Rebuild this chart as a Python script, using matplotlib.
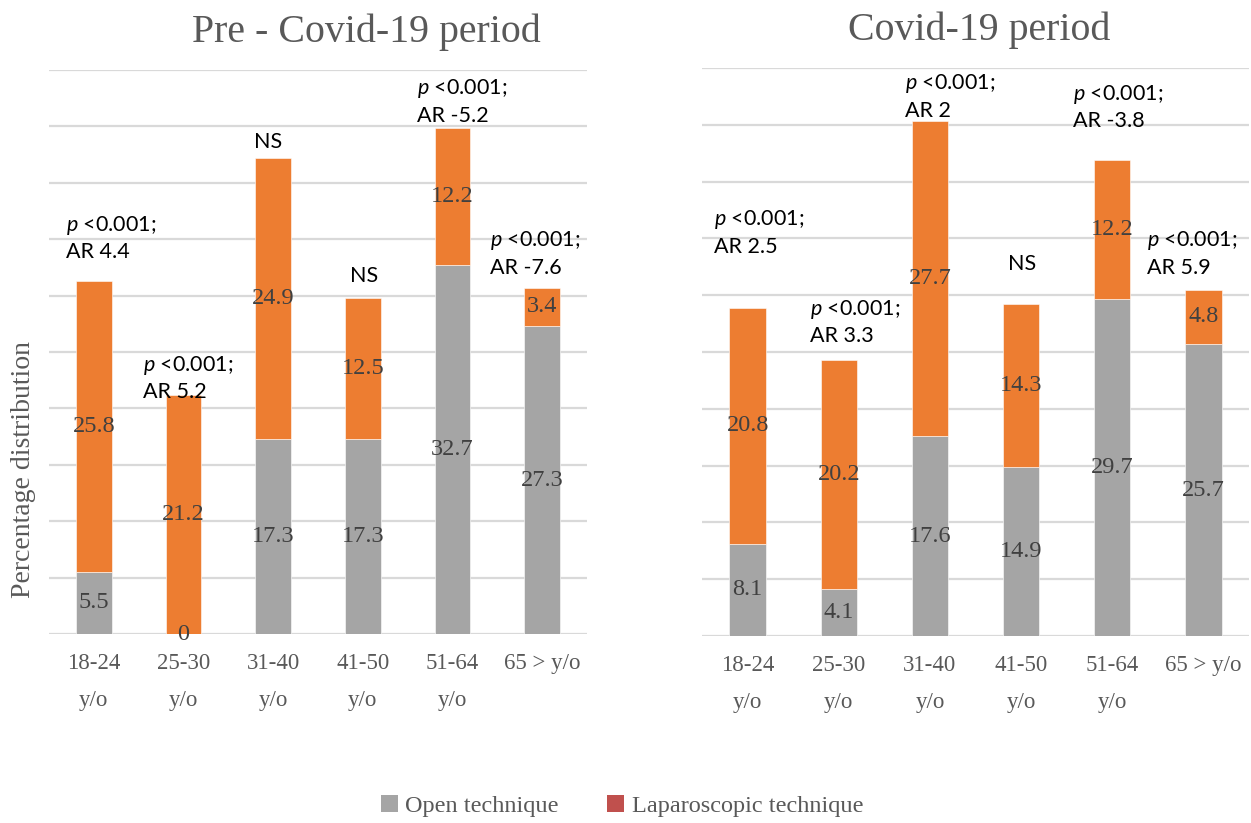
import matplotlib
matplotlib.use("Agg")
import matplotlib.pyplot as plt
from matplotlib.patches import Patch
import numpy as np

plt.rcParams['mathtext.fontset'] = 'custom'
plt.rcParams['mathtext.it'] = 'Lato:italic'
plt.rcParams['mathtext.rm'] = 'Lato'

categories = ["18-24\ny/o", "25-30\ny/o", "31-40\ny/o", "41-50\ny/o", "51-64\ny/o", "65 > y/o"]

pre_open = [5.5, 0, 17.3, 17.3, 32.7, 27.3]
pre_lap = [25.8, 21.2, 24.9, 12.5, 12.2, 3.4]
pre_notes = ["$p$ <0.001;\nAR 4.4", "$p$ <0.001;\nAR 5.2", "NS", "NS",
             "$p$ <0.001;\nAR -5.2", "$p$ <0.001;\nAR -7.6"]

cov_open = [8.1, 4.1, 17.6, 14.9, 29.7, 25.7]
cov_lap = [20.8, 20.2, 27.7, 14.3, 12.2, 4.8]
cov_notes = ["$p$ <0.001;\nAR 2.5", "$p$ <0.001;\nAR 3.3", "$p$ <0.001;\nAR 2", "NS",
             "$p$ <0.001;\nAR -3.8", "$p$ <0.001;\nAR 5.9"]

# layout: annotation offsets in pixels (dx from bar centre to text left / centre, dy above bar top)
pre_offsets = [(-28, 43), (-40, 17), (-5, 16), (1, 22), (-35, 26), (-52, 34)]
cov_offsets = [(-34, 75), (-29, 38), (-25, 25), (1, 40), (-39, 53), (-56, 36)]

GRAY = "#A5A5A5"
ORANGE = "#ED7D31"
TXT = "#595959"
LBL = "#404040"
SERIF = "Liberation Serif"
SANS = "Lato"

fig = plt.figure(figsize=(12.51, 8.23), dpi=100)
W, H = 1251, 823


def px_axes(x0, y0, x1, y1):
    return fig.add_axes([x0 / W, 1 - y1 / H, (x1 - x0) / W, (y1 - y0) / H])


def draw(ax, opn, lap, notes, offsets):
    x = np.arange(len(categories))
    ax.bar(x, opn, width=0.4, color=GRAY, edgecolor="white", linewidth=0.4, zorder=3)
    ax.bar(x, lap, width=0.4, bottom=opn, color=ORANGE, edgecolor="white", linewidth=0.4, zorder=3)
    ax.set_xlim(-0.5, len(categories) - 0.5)
    ax.set_ylim(0, 50)
    ax.set_yticks(np.arange(0, 51, 5))
    ax.yaxis.grid(True, color="#D9D9D9", linewidth=1.6, zorder=0)
    ax.set_yticklabels([])
    ax.tick_params(axis="y", length=0)
    ax.tick_params(axis="x", length=0, pad=14)
    ax.set_xticks(x)
    ax.set_xticklabels(categories, fontfamily=SERIF, fontsize=16.5, color=TXT, linespacing=1.95)
    for s in ax.spines.values():
        s.set_visible(False)
    for i in x:
        ax.text(i, opn[i] / 2, f"{opn[i]:g}", ha="center", va="center",
                fontfamily=SERIF, fontsize=17.5, color=LBL, zorder=5)
        ax.text(i, opn[i] + lap[i] / 2, f"{lap[i]:g}", ha="center", va="center",
                fontfamily=SERIF, fontsize=17.5, color=LBL, zorder=5)
        total = opn[i] + lap[i]
        dx, dy = offsets[i]
        ha = "center" if notes[i] == "NS" else "left"
        ax.annotate(notes[i], xy=(i, total), xytext=(dx * 0.72, dy * 0.72),
                    textcoords="offset points", ha=ha, va="center",
                    fontfamily=SANS, fontsize=15.5, color="black",
                    linespacing=1.35, zorder=6)


ax1 = px_axes(49, 70, 587, 634)
draw(ax1, pre_open, pre_lap, pre_notes, pre_offsets)
ax2 = px_axes(702, 68, 1249, 636)
draw(ax2, cov_open, cov_lap, cov_notes, cov_offsets)

fig.text(366 / W, 1 - 32 / H, "Pre - Covid-19 period", ha="center", va="center",
         fontfamily=SERIF, fontsize=28.7, color=TXT)
fig.text(979 / W, 1 - 30 / H, "Covid-19 period", ha="center", va="center",
         fontfamily=SERIF, fontsize=28.7, color=TXT)
fig.text(24 / W, 1 - 469 / H, "Percentage distribution", rotation=90, ha="center", va="center",
         fontfamily=SERIF, fontsize=20, color=TXT)

handles = [Patch(facecolor=GRAY, label="Open technique"),
           Patch(facecolor="#C0504D", label="Laparoscopic technique")]
fig.legend(handles=handles, loc="center", bbox_to_anchor=(622 / W, 1 - 806 / H),
           ncol=2, frameon=False, handlelength=0.7, handleheight=0.7, handletextpad=0.3,
           columnspacing=2.0, prop={"family": SERIF, "size": 17.5}, labelcolor=TXT)

fig.savefig("out.png", dpi=100)
